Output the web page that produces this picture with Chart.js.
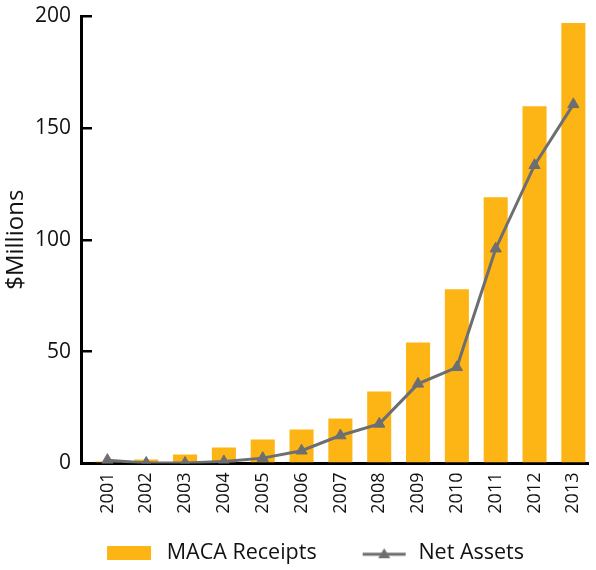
<!DOCTYPE html>
<html>
<head>
<meta charset="utf-8">
<script src="https://cdn.jsdelivr.net/npm/chart.js@4.4.0/dist/chart.umd.min.js"></script>
<style>
  html, body { margin: 0; padding: 0; background: #ffffff; }
  #wrap { width: 596px; height: 570px; position: relative; }
</style>
</head>
<body>
<div id="wrap"><canvas id="c"></canvas></div>
<script>
const years = ['2001','2002','2003','2004','2005','2006','2007','2008','2009','2010','2011','2012','2013'];
const macaReceipts = [0.9, 1.8, 4.0, 7.2, 10.7, 15.2, 20.1, 32.2, 54.1, 77.9, 119.0, 159.7, 196.9];
const netAssets = [1.5, 0.2, 0.2, 0.9, 2.4, 5.7, 12.5, 17.7, 35.6, 43.0, 96.0, 133.3, 160.5];
const yTicks = [0, 50, 100, 150, 200];

const ORANGE = '#FDB515';
const GRAY = '#6D6E71';
const FONT = "'Open Sans', 'DejaVu Sans', sans-serif";

function legendBox() {
  const c = document.createElement('canvas');
  c.width = 88; c.height = 14;
  const g = c.getContext('2d');
  g.fillStyle = ORANGE; g.fillRect(39, 0, 44, 14);
  return c;
}
function legendLine() {
  const c = document.createElement('canvas');
  c.width = 88; c.height = 14;
  const g = c.getContext('2d');
  g.strokeStyle = GRAY; g.lineWidth = 3;
  g.beginPath(); g.moveTo(43, 8); g.lineTo(86, 8); g.stroke();
  g.fillStyle = GRAY;
  g.beginPath(); g.moveTo(64.5, 2); g.lineTo(70.5, 12); g.lineTo(58.5, 12); g.closePath(); g.fill();
  return c;
}

const ctx = document.getElementById('c');
new Chart(ctx, {
  data: {
    datasets: [
      {
        type: 'bar',
        label: 'MACA Receipts',
        data: years.map((y, i) => ({ x: i, y: macaReceipts[i] })),
        backgroundColor: ORANGE,
        borderWidth: 0,
        barPercentage: 0.62,
        categoryPercentage: 1.0,
        order: 1
      },
      {
        type: 'line',
        label: 'Net Assets',
        data: years.map((y, i) => ({ x: i, y: netAssets[i] })),
        borderColor: GRAY,
        backgroundColor: GRAY,
        borderWidth: 3,
        pointStyle: 'triangle',
        pointRadius: 6.5,
        pointBorderWidth: 1,
        pointBackgroundColor: GRAY,
        pointBorderColor: GRAY,
        tension: 0,
        fill: false,
        order: 0
      }
    ]
  },
  options: {
    responsive: true,
    maintainAspectRatio: false,
    animation: false,
    layout: { padding: { left: 0, right: 4, top: 16, bottom: -4 } },
    plugins: {
      tooltip: { enabled: false },
      legend: {
        position: 'bottom',
        labels: {
          usePointStyle: true,
          pointStyleWidth: 88,
          boxHeight: 14,
          padding: 3,
          color: '#111',
          font: { family: FONT, size: 21.5 },
          generateLabels: () => [
            { text: 'MACA Receipts', pointStyle: legendBox(), fillStyle: ORANGE, strokeStyle: ORANGE, lineWidth: 0, datasetIndex: 0, fontColor: '#111' },
            { text: 'Net Assets', pointStyle: legendLine(), fillStyle: GRAY, strokeStyle: GRAY, lineWidth: 0, datasetIndex: 1, fontColor: '#111' }
          ]
        }
      }
    },
    scales: {
      x: {
        type: 'linear',
        min: -0.68,
        max: 12.39,
        offset: false,
        afterBuildTicks: (s) => { s.ticks = years.map((_, i) => ({ value: i })); },
        afterFit: (s) => { s.height = 76; s.paddingRight = 0; s.paddingLeft = 0; },
        grid: { display: false, drawTicks: false },
        border: { display: true, color: '#000', width: 3 },
        ticks: {
          minRotation: 90,
          maxRotation: 90,
          autoSkip: false,
          padding: 9,
          color: '#111',
          font: { family: FONT, size: 18 },
          callback: (v) => years[v] !== undefined ? years[v] : ''
        }
      },
      y: {
        type: 'linear',
        min: 0,
        max: 200,
        afterBuildTicks: (s) => { s.ticks = yTicks.map(v => ({ value: v })); },
        afterFit: (s) => { s.width = 81; s.paddingTop = 0; s.paddingBottom = 0; },
        title: {
          display: true,
          text: '$Millions',
          color: '#111',
          font: { family: FONT, size: 24 },
          padding: { top: 2, bottom: 2 }
        },
        grid: {
          display: true,
          drawOnChartArea: false,
          drawTicks: true,
          tickLength: -11,
          color: '#000',
          lineWidth: 2.5
        },
        border: { display: true, color: '#000', width: 3 },
        ticks: {
          padding: 21,
          color: '#111',
          font: { family: FONT, size: 21 }
        }
      }
    }
  }
});
</script>
</body>
</html>
